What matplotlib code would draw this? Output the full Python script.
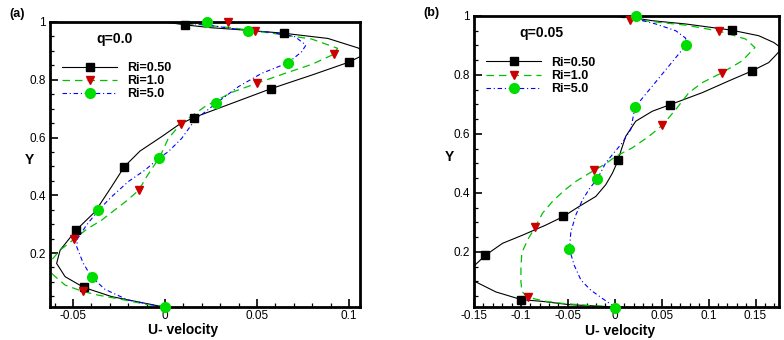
import matplotlib
matplotlib.use("Agg")
from matplotlib import pyplot as plt
from matplotlib.ticker import MultipleLocator, FuncFormatter

plt.rcParams['font.family'] = ['Liberation Sans', 'DejaVu Sans']

# ---- panel (a): q = 0.0 ----
a_u050 = [0.000, -0.0054, -0.029, -0.0442, -0.0543, -0.0589, -0.057, -0.0482, -0.038, -0.029,
          -0.0221, -0.0136, -0.0018, 0.0072, 0.0156, 0.0362, 0.0576, 0.0797, 0.100, 0.106,
          0.108, 0.105, 0.0886, 0.0647, 0.0435, 0.0254, 0.011, 0.000]
a_y050 = [0.013, 0.019, 0.049, 0.081, 0.118, 0.164, 0.21, 0.280, 0.343, 0.430,
          0.499, 0.553, 0.603, 0.643, 0.669, 0.718, 0.769, 0.816, 0.861, 0.88,
          0.897, 0.91, 0.943, 0.961, 0.972, 0.980, 0.990, 1.0]
a_u10 = [0.000, -0.0109, -0.0217, -0.0362, -0.0447, -0.0543, -0.0607, -0.064, -0.0616, -0.057,
         -0.0496, -0.0426, -0.0344, -0.0281, -0.0208, -0.0143, -0.010, -0.0027, 0.0018, 0.0087,
         0.0217, 0.0362, 0.050, 0.0652, 0.0797, 0.0917, 0.0938, 0.0797, 0.0616, 0.0489,
         0.0362, 0.0199, 0.000]
a_y10 = [0.013, 0.023, 0.037, 0.054, 0.067, 0.089, 0.124, 0.15, 0.176, 0.21,
         0.247, 0.282, 0.314, 0.345, 0.381, 0.417, 0.464, 0.534, 0.597, 0.648,
         0.707, 0.756, 0.788, 0.822, 0.853, 0.888, 0.909, 0.941, 0.958, 0.969,
         0.980, 0.990, 1.0]
a_u50 = [0.000, -0.008, -0.02, -0.0326, -0.0399, -0.0444, -0.048, -0.0475, -0.0426, -0.0362,
         -0.029, -0.02, -0.0109, -0.0033, 0.0018, 0.0091, 0.0163, 0.0277, 0.0399, 0.0525,
         0.067, 0.0743, 0.0766, 0.0707, 0.058, 0.0449, 0.029, 0.02, 0.000]
a_y50 = [0.013, 0.022, 0.037, 0.074, 0.117, 0.164, 0.222, 0.25, 0.297, 0.348,
         0.395, 0.447, 0.487, 0.528, 0.551, 0.597, 0.661, 0.718, 0.776, 0.822,
         0.859, 0.897, 0.92, 0.949, 0.964, 0.970, 0.984, 0.992, 1.0]

a_mu050 = [0.011, 0.0647, 0.100, 0.0576, 0.0156, -0.0221, -0.0482, -0.0442]
a_my050 = [0.990, 0.961, 0.861, 0.769, 0.669, 0.499, 0.280, 0.081]
a_mu10 = [0.034, 0.0489, 0.0917, 0.050, 0.0087, -0.0143, -0.0496, -0.0447]
a_my10 = [0.999, 0.969, 0.888, 0.788, 0.648, 0.417, 0.247, 0.067]
a_mu50 = [0.023, 0.0449, 0.067, 0.0277, -0.0033, -0.0362, -0.0399, 0.000]
a_my50 = [0.999, 0.970, 0.859, 0.718, 0.528, 0.348, 0.117, 0.012]

# ---- panel (b): q = 0.05 ----
b_u050 = [0.000, -0.0486, -0.077, -0.0994, -0.1266, -0.148, -0.158, -0.151, -0.138, -0.1196,
          -0.098, -0.0734, -0.0547, -0.038, -0.0202, -0.0096, -0.0025, 0.0035, 0.0064, 0.0117,
          0.0223, 0.040, 0.0588, 0.0932, 0.1216, 0.1457, 0.164, 0.171, 0.178, 0.1695,
          0.1535, 0.1245, 0.0755, 0.040, 0.0152, 0.000]
b_y050 = [0.013, 0.021, 0.032, 0.038, 0.064, 0.098, 0.125, 0.149, 0.188, 0.229,
          0.257, 0.291, 0.320, 0.354, 0.388, 0.428, 0.467, 0.510, 0.541, 0.592,
          0.643, 0.677, 0.699, 0.740, 0.780, 0.813, 0.842, 0.865, 0.89, 0.910,
          0.933, 0.952, 0.973, 0.984, 0.996, 1.0]
b_u10 = [0.000, -0.027, -0.055, -0.0752, -0.0922, -0.099, -0.100, -0.100, -0.099, -0.093,
         -0.0848, -0.077, -0.0664, -0.054, -0.0415, -0.0223, -0.0096, 0.001, 0.0187, 0.0365,
         0.0506, 0.065, 0.079, 0.0932, 0.1145, 0.1358, 0.1493, 0.1394, 0.111, 0.0755,
         0.040, 0.0163, 0.000]
b_y10 = [0.013, 0.018, 0.025, 0.033, 0.046, 0.065, 0.10, 0.15, 0.197, 0.240,
         0.284, 0.331, 0.371, 0.408, 0.439, 0.476, 0.499, 0.524, 0.553, 0.592,
         0.629, 0.683, 0.740, 0.774, 0.808, 0.848, 0.893, 0.922, 0.949, 0.969,
         0.981, 0.990, 1.0]
b_u50 = [0.000, -0.0132, -0.0255, -0.036, -0.0433, -0.0483, -0.0468, -0.0415, -0.0345, -0.0266,
         -0.0185, -0.0096, -0.004, 0.008, 0.017, 0.0216, 0.049, 0.0759, 0.0755, 0.065,
         0.0436, 0.0223, 0.000]
b_y50 = [0.013, 0.042, 0.070, 0.104, 0.155, 0.209, 0.268, 0.325, 0.376, 0.416,
         0.448, 0.502, 0.524, 0.57, 0.615, 0.691, 0.797, 0.901, 0.925, 0.950,
         0.973, 0.990, 1.0]

b_mu050 = [0.1245, 0.1457, 0.0588, 0.0035, -0.0547, -0.138, -0.0994]
b_my050 = [0.952, 0.813, 0.699, 0.510, 0.320, 0.188, 0.038]
b_mu10 = [0.0163, 0.111, 0.1145, 0.0506, -0.0223, -0.0848, -0.0922]
b_my10 = [0.986, 0.949, 0.808, 0.629, 0.476, 0.284, 0.046]
b_mu50 = [0.023, 0.0759, 0.0216, -0.0185, -0.0483, 0.000]
b_my50 = [1.0, 0.901, 0.691, 0.448, 0.209, 0.011]

labels = ["Ri=0.50", "Ri=1.0", "Ri=5.0"]


def draw_panel(ax, curves, marks, q_text, xlim):
    styles = [
        dict(color="black", lw=0.8, ls="-"),
        dict(color="#00c000", lw=0.9, dashes=(6, 4)),
        dict(color="#0000ff", lw=0.8, dashes=(4, 2.5, 1, 2.5)),
    ]
    mstyles = [
        dict(marker="s", ms=5.5, color="black"),
        dict(marker="v", ms=6, color="#cc0000"),
        dict(marker="o", ms=7, color="#00dd00"),
    ]
    handles = []
    for (u, y), (mu, my), st, mst in zip(curves, marks, styles, mstyles):
        ax.plot(u, y, **st)
        ax.plot(mu, my, ls="none", marker=mst["marker"], ms=mst["ms"],
                mfc=mst["color"], mec=mst["color"], clip_on=False, zorder=5)
        h, = ax.plot([], [], marker=mst["marker"], ms=mst["ms"], mfc=mst["color"],
                     mec=mst["color"], **st)
        handles.append(h)

    ax.set_xlim(*xlim)
    ax.set_ylim(0.013, 1.0)
    ax.xaxis.set_major_locator(MultipleLocator(0.05))
    ax.xaxis.set_minor_locator(MultipleLocator(0.01))
    ax.yaxis.set_major_locator(MultipleLocator(0.2))
    ax.yaxis.set_minor_locator(MultipleLocator(0.05))
    fmt = FuncFormatter(lambda v, p: "%g" % round(v, 4))
    ax.xaxis.set_major_formatter(fmt)
    ax.yaxis.set_major_formatter(fmt)
    ax.tick_params(which="both", direction="in", top=False, right=False,
                   labelsize=8.5, width=1.2, pad=3)
    ax.tick_params(axis="x", pad=2)
    ax.tick_params(which="major", length=6)
    ax.tick_params(which="minor", length=3, width=0.9)
    for s in ax.spines.values():
        s.set_linewidth(2)

    ax.legend(handles, labels, loc="upper left", frameon=False,
              bbox_to_anchor=(0.04, 0.86), borderaxespad=0, borderpad=0,
              handlelength=4.4, handletextpad=0.8, labelspacing=0.1,
              prop=dict(size=9, weight="bold"), numpoints=1)
    ax.text(0.15, 0.94, q_text, transform=ax.transAxes, fontsize=10,
            fontweight="bold", ha="left", va="center")


fig = plt.figure(figsize=(7.84, 3.40), dpi=100)
ax1 = fig.add_axes([50 / 784, 33 / 340, 310 / 784, 285 / 340])
ax2 = fig.add_axes([474 / 784, 33 / 340, 305 / 784, 291 / 340])

draw_panel(ax1, [(a_u050, a_y050), (a_u10, a_y10), (a_u50, a_y50)],
           [(a_mu050, a_my050), (a_mu10, a_my10), (a_mu50, a_my50)],
           "q=0.0", (-0.0625, 0.106))
draw_panel(ax2, [(b_u050, b_y050), (b_u10, b_y10), (b_u50, b_y50)],
           [(b_mu050, b_my050), (b_mu10, b_my10), (b_mu50, b_my50)],
           "q=0.05", (-0.15, 0.175))

ax1.set_xlabel("U- velocity", fontsize=10, fontweight="bold")
ax1.xaxis.set_label_coords(0.43, -0.055)
ax1.set_ylabel("Y", fontsize=10, fontweight="bold", rotation=0, ha="center", va="center")
ax1.yaxis.set_label_coords(-0.065, 0.516)

ax2.set_xlabel("U- velocity", fontsize=10, fontweight="bold")
ax2.xaxis.set_label_coords(0.48, -0.06)
ax2.set_ylabel("Y", fontsize=10, fontweight="bold", rotation=0, ha="center", va="center")
ax2.yaxis.set_label_coords(-0.079, 0.515)

fig.text(17 / 784, 1 - 14 / 340, "(a)", fontsize=9, fontweight="bold", ha="center", va="center")
fig.text(431 / 784, 1 - 13 / 340, "(b)", fontsize=9, fontweight="bold", ha="center", va="center")

fig.savefig("out.png", dpi=100)
